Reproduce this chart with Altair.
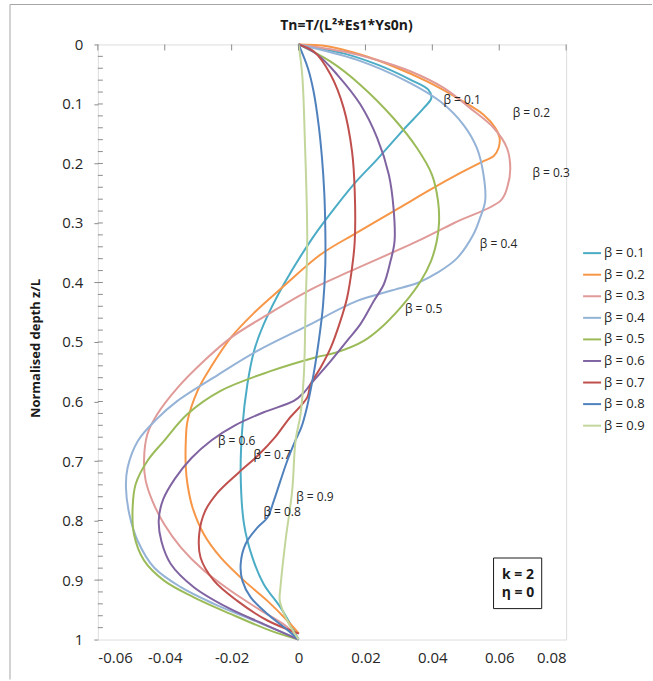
import altair as alt
import pandas as pd

# ---------------- data ----------------
beta_names = ["β = 0.1", "β = 0.2", "β = 0.3", "β = 0.4", "β = 0.5",
              "β = 0.6", "β = 0.7", "β = 0.8", "β = 0.9"]
beta_colors = ["#4BACC6", "#F79646", "#E09A98", "#95B3D7", "#9BBB59",
               "#8064A2", "#C0504D", "#4F81BD", "#C3D69B"]

z_b1 = [0, 0.015, 0.034, 0.059, 0.076, 0.090, 0.107, 0.143, 0.193, 0.235, 0.291, 0.330,
        0.403, 0.470, 0.515, 0.571, 0.644, 0.722, 0.806, 0.862, 0.907, 0.946, 0.985, 1.0]
x_b1 = [0, 0.0134, 0.0236, 0.0334, 0.0388, 0.0397, 0.0374, 0.0314, 0.0235, 0.0165, 0.0086, 0.0036,
        -0.0044, -0.0104, -0.0133, -0.0153, -0.0168, -0.0173, -0.0163, -0.0138, -0.0104, -0.0054, -0.0014, 0]

z_b2 = [0, 0.003, 0.017, 0.037, 0.062, 0.093, 0.118, 0.140, 0.157, 0.174, 0.188, 0.196, 0.216,
        0.244, 0.275, 0.317, 0.353, 0.406, 0.451, 0.493, 0.543, 0.582, 0.633, 0.666, 0.711,
        0.739, 0.778, 0.823, 0.862, 0.901, 0.935, 0.968, 0.990]
x_b2 = [0, 0.0086, 0.0185, 0.0284, 0.0384, 0.0484, 0.0553, 0.0588, 0.0601, 0.0598, 0.0583, 0.0553, 0.0484,
        0.0394, 0.0300, 0.0172, 0.0066, -0.0044, -0.0133, -0.0203, -0.0263, -0.0302, -0.0332, -0.0337, -0.0337,
        -0.0332, -0.0317, -0.0283, -0.0233, -0.0163, -0.0093, -0.0034, 0.0001]

z_b3 = [0, 0.012, 0.026, 0.045, 0.073, 0.107, 0.140, 0.174, 0.208, 0.238, 0.262, 0.300, 0.331,
        0.381, 0.412, 0.451, 0.493, 0.532, 0.577, 0.621, 0.655, 0.700, 0.733, 0.767, 0.806,
        0.845, 0.884, 0.918, 0.951, 0.979, 1.0]
x_b3 = [0, 0.0135, 0.0235, 0.0334, 0.0434, 0.0513, 0.0583, 0.0623, 0.0633, 0.0625, 0.0605, 0.0465, 0.0354,
        0.0155, 0.0036, -0.0084, -0.0203, -0.0283, -0.0362, -0.0422, -0.0452, -0.0462, -0.0457, -0.0437, -0.0402,
        -0.0352, -0.0283, -0.0203, -0.0113, -0.0034, 0]

z_b4 = [0, 0.026, 0.062, 0.096, 0.135, 0.174, 0.219, 0.263, 0.291, 0.319, 0.359, 0.384, 0.400,
        0.414, 0.431, 0.473, 0.515, 0.556, 0.599, 0.630, 0.666, 0.711, 0.744, 0.789, 0.834,
        0.879, 0.912, 0.940, 0.968, 0.996]
x_b4 = [0, 0.0175, 0.0324, 0.0424, 0.0493, 0.0533, 0.0553, 0.0558, 0.0543, 0.0523, 0.0474, 0.0414, 0.0359,
        0.0275, 0.0175, 0.0026, -0.0123, -0.0243, -0.0362, -0.0425, -0.0480, -0.0511, -0.0516, -0.0506, -0.0481,
        -0.0432, -0.0352, -0.0253, -0.0133, -0.0014]

z_b5 = [0, 0.029, 0.068, 0.124, 0.174, 0.219, 0.263, 0.300, 0.331, 0.364, 0.398, 0.431, 0.470,
        0.498, 0.518, 0.526, 0.549, 0.582, 0.621, 0.666, 0.700, 0.739, 0.778, 0.823, 0.867,
        0.901, 0.929, 0.957, 0.985, 1.0]
x_b5 = [0, 0.0096, 0.0185, 0.0284, 0.0354, 0.0399, 0.0417, 0.0420, 0.0413, 0.0396, 0.0365, 0.0322, 0.0258,
        0.0195, 0.0110, 0.0050, -0.0084, -0.0233, -0.0332, -0.0402, -0.0452, -0.0487, -0.0496, -0.0492, -0.0462,
        -0.0402, -0.0313, -0.0203, -0.0084, 0]

z_b6 = [0, 0.017, 0.051, 0.101, 0.157, 0.219, 0.275, 0.331, 0.364, 0.403, 0.431, 0.470, 0.498,
        0.532, 0.571, 0.585, 0.599, 0.618, 0.640, 0.665, 0.695, 0.730, 0.765, 0.800, 0.835,
        0.873, 0.912, 0.946, 0.974, 1.0]
x_b6 = [0, 0.0056, 0.0116, 0.0185, 0.0235, 0.0270, 0.0284, 0.0287, 0.0275, 0.0255, 0.0225, 0.0185, 0.0145,
        0.0096, 0.0036, 0.0016, -0.0014, -0.0104, -0.0190, -0.0260, -0.0320, -0.0370, -0.0405, -0.0418, -0.0410,
        -0.0382, -0.0313, -0.0213, -0.0104, 0]

z_b7 = [0, 0.012, 0.051, 0.107, 0.180, 0.247, 0.331, 0.375, 0.426, 0.465, 0.510, 0.543, 0.571,
        0.593, 0.630, 0.660, 0.690, 0.720, 0.752, 0.785, 0.823, 0.862, 0.901, 0.935, 0.968, 0.990]
x_b7 = [0, 0.0046, 0.0096, 0.0135, 0.0160, 0.0168, 0.0168, 0.0160, 0.0145, 0.0125, 0.0096, 0.0066, 0.0036,
        0.0026, -0.0030, -0.0070, -0.0120, -0.0180, -0.0240, -0.0280, -0.0297, -0.0293, -0.0253, -0.0183, -0.0093, 0.0001]

z_b8 = [0, 0.040, 0.079, 0.135, 0.190, 0.250, 0.310, 0.370, 0.440, 0.500, 0.554, 0.610, 0.644,
        0.666, 0.700, 0.733, 0.767, 0.795, 0.812, 0.839, 0.873, 0.901, 0.929, 0.957, 0.979, 1.0]
x_b8 = [0, 0.0028, 0.0045, 0.0060, 0.0070, 0.0077, 0.0080, 0.0080, 0.0073, 0.0060, 0.0045, 0.0025, 0.0008,
        -0.0010, -0.0034, -0.0054, -0.0074, -0.0093, -0.0123, -0.0158, -0.0173, -0.0168, -0.0143, -0.0093, -0.0044, 0]

z_b9 = [0, 0.051, 0.163, 0.325, 0.442, 0.554, 0.621, 0.666, 0.750, 0.834, 0.912, 0.935, 0.968, 1.0]
x_b9 = [0, 0.0011, 0.0019, 0.0026, 0.0021, 0.0016, 0.0006, -0.0009, -0.0019, -0.0039, -0.0054, -0.0056, -0.0034, 0]

# curve labels
label_text = ["β = 0.1", "β = 0.2", "β = 0.3", "β = 0.4", "β = 0.5",
              "β = 0.6", "β = 0.7", "β = 0.8", "β = 0.9"]
label_x = [0.0489, 0.0696, 0.0755, 0.0598, 0.0374, -0.0185, -0.0079, -0.0049, 0.0049]
label_z = [0.093, 0.115, 0.216, 0.335, 0.445, 0.666, 0.690, 0.785, 0.761]

# parameter box
box_x = [0.0583, 0.0727]
box_z = [0.863, 0.948]
box_text = ["k = 2", "η = 0"]
box_text_x = [0.0656, 0.0656]
box_text_z = [0.891, 0.922]

chart_title = "Tn=T/(L²*Es1*Ys0n)"
x_ticks = [-0.06, -0.04, -0.02, 0, 0.02, 0.04, 0.06, 0.08]
y_ticks = [0, 0.1, 0.2, 0.3, 0.4, 0.5, 0.6, 0.7, 0.8, 0.9, 1.0]
y_minor = [i / 50 for i in range(1, 50)]

# ---------------- build ----------------
z_all = [z_b1, z_b2, z_b3, z_b4, z_b5, z_b6, z_b7, z_b8, z_b9]
x_all = [x_b1, x_b2, x_b3, x_b4, x_b5, x_b6, x_b7, x_b8, x_b9]
rows = []
for name, zs, xs_ in zip(beta_names, z_all, x_all):
    for i, (z, x) in enumerate(zip(zs, xs_)):
        rows.append({"series": name, "x": x, "z": z, "idx": i})
df = pd.DataFrame(rows)

FONT = "Open Sans"
TXT = "#262626"
GRAY = "#8c8c8c"

xs = alt.Scale(domain=[-0.06, 0.08], nice=False, zero=False)
ys = alt.Scale(domain=[0, 1], reverse=True, nice=False, zero=False)

lines = alt.Chart(df).mark_line(strokeWidth=2, interpolate="catmull-rom").encode(
    x=alt.X("x:Q", scale=xs, axis=alt.Axis(
        orient="bottom", values=x_ticks, title=None, grid=False, domain=False, ticks=False,
        labelPadding=11, labelFont=FONT, labelFontSize=15, labelColor=TXT,
        labelExpr="datum.value == 0 ? '0' : replace(format(datum.value, '.2f'), '\u2212', '-')")),
    y=alt.Y("z:Q", scale=ys, axis=alt.Axis(
        orient="left", values=y_ticks, format="~g", grid=False, domain=False, ticks=True, tickSize=4,
        tickColor=GRAY, labelPadding=11, labelFont=FONT, labelFontSize=15, labelColor=TXT,
        title="Normalised depth z/L", titleFont=FONT, titleFontSize=13, titleFontWeight="bold",
        titleColor="#1a1a1a", titleAngle=270, titleX=-62, titleY=304,
        titleAlign="center", titleBaseline="middle")),
    color=alt.Color("series:N", scale=alt.Scale(domain=beta_names, range=beta_colors),
                    legend=alt.Legend(title=None, orient="none", legendX=485, legendY=199,
                                      symbolType="stroke", symbolSize=324, symbolStrokeWidth=2,
                                      labelFont=FONT, labelFontSize=13, labelColor=TXT,
                                      rowPadding=4.6, labelOffset=2, padding=0)),
    order=alt.Order("idx:Q"),
)

lab_df = pd.DataFrame({"t": label_text, "x": label_x, "z": label_z})
labels = alt.Chart(lab_df).mark_text(font=FONT, fontSize=12, color=TXT).encode(
    x=alt.X("x:Q", scale=xs, axis=None),
    y=alt.Y("z:Q", scale=ys, axis=None),
    text="t:N",
)

box_df = pd.DataFrame({"x1": [box_x[0]], "x2": [box_x[1]], "z1": [box_z[0]], "z2": [box_z[1]]})
box = alt.Chart(box_df).mark_rect(fill="white", stroke="#1a1a1a", strokeWidth=1).encode(
    x=alt.X("x1:Q", scale=xs, axis=None), x2="x2:Q",
    y=alt.Y("z1:Q", scale=ys, axis=None), y2="z2:Q",
)
bt_df = pd.DataFrame({"t": box_text, "x": box_text_x, "z": box_text_z})
box_txt = alt.Chart(bt_df).mark_text(font=FONT, fontSize=14, fontWeight="bold", color="#1a1a1a").encode(
    x=alt.X("x:Q", scale=xs, axis=None),
    y=alt.Y("z:Q", scale=ys, axis=None),
    text="t:N",
)

xt_df = pd.DataFrame({"v": x_ticks})
top_ticks = alt.Chart(xt_df).mark_rule(color=GRAY, strokeWidth=1).encode(
    x=alt.X("v:Q", scale=xs, axis=None), y=alt.value(0), y2=alt.value(6))
ym_df = pd.DataFrame({"v": y_minor})
left_ticks = alt.Chart(ym_df).mark_rule(color=GRAY, strokeWidth=1).encode(
    y=alt.Y("v:Q", scale=ys, axis=None), x=alt.value(0), x2=alt.value(5))

one = pd.DataFrame({"t": [chart_title]})
frame_top = alt.Chart(one).mark_rule(color="#a6a6a6", strokeWidth=1).encode(
    x=alt.value(-88), x2=alt.value(555), y=alt.value(-40))
frame_left = alt.Chart(one).mark_rule(color="#a6a6a6", strokeWidth=1).encode(
    x=alt.value(-88), y=alt.value(-40), y2=alt.value(636))
title_txt = alt.Chart(one).mark_text(font=FONT, fontSize=14, fontWeight="bold", color="#1a1a1a",
                                     baseline="middle", align="center").encode(
    x=alt.value(249), y=alt.value(-18), text="t:N")

chart = alt.layer(lines, labels, box, box_txt, top_ticks, left_ticks,
                  frame_top, frame_left, title_txt).resolve_axis(
    x="independent", y="independent"
).properties(
    width=469, height=596,
    padding={"left": 9, "top": 3, "right": 0, "bottom": 0},
).configure_view(stroke=GRAY, strokeWidth=1).configure(background="white")

chart.save("out.html", embed_options={"renderer": "svg", "actions": False})
